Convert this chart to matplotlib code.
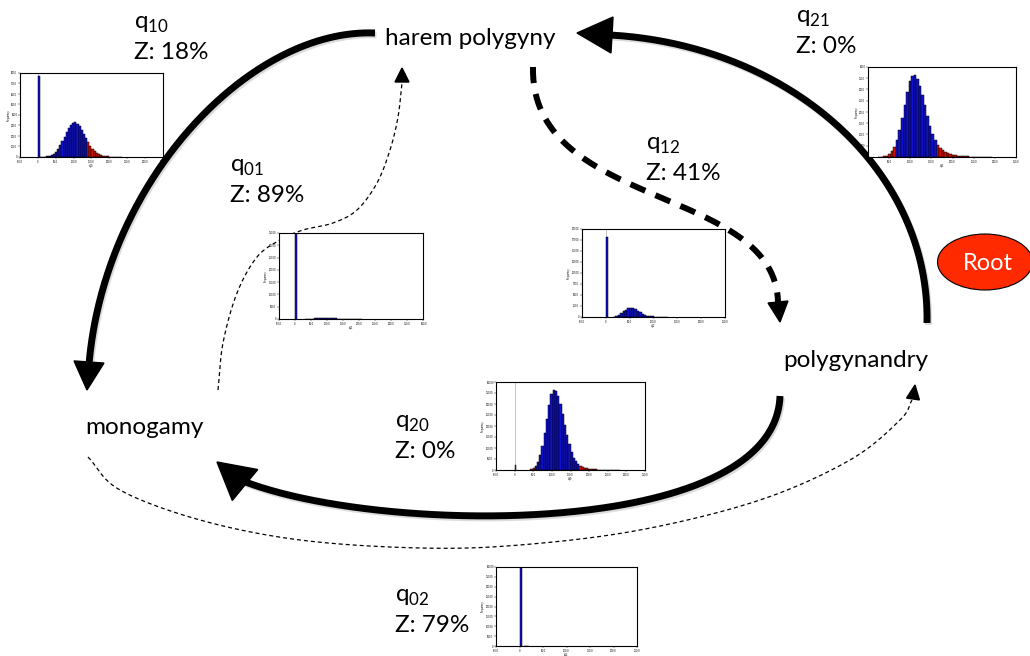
import numpy as np
import matplotlib.pyplot as plt
from matplotlib.patches import Ellipse, Polygon

plt.rcParams['font.family'] = ['Lato', 'DejaVu Sans']

W, H = 1030, 656
BLUE = "#1010d0"
RED = "#d01000"

# ---- labels ----
node_names = ["harem polygyny", "polygynandry", "monogamy"]
rate_names = ["10", "21", "01", "12", "20", "02"]
z_scores = ["18%", "0%", "89%", "41%", "0%", "79%"]

# ---- posterior histograms (spike at zero + continuous part) ----
q10_spike = 7700
q10_start, q10_step = 6, 6
q10_counts = [30, 35, 45, 60, 115, 200, 330, 520, 770, 1100, 1500, 1920, 2370,
              2770, 3080, 3260, 3290, 3180, 2940, 2600, 2210, 1800, 1400, 1050,
              760, 540, 380, 260, 180, 125, 90, 65, 45, 32, 23, 16, 11, 8]
q10_ci = (-10, 138)

q21_spike = 0
q21_start, q21_step = 24, 6
q21_counts = [10, 12, 27, 60, 127, 248, 452, 760, 1185, 1720, 2310, 2890, 3360,
              3620, 3630, 3470, 3170, 2760, 2290, 1820, 1380, 1020, 740, 540,
              400, 300, 225, 170, 130, 100, 78, 60, 48, 38, 30, 24, 19, 15, 12,
              10, 8, 7, 6, 5, 4]
q21_ci = (66, 163)

q01_spike = 35000
q01_start, q01_step = 30, 10
q01_counts = [60, 110, 180, 260, 330, 380, 400, 380, 330, 260, 190, 130, 80,
              50, 30, 20, 12, 8]
q01_ci = (-10, 400)

q12_spike = 18200
q12_start, q12_step = 15, 5
q12_counts = [80, 200, 450, 800, 1250, 1700, 2000, 2100, 2000, 1750, 1400,
              1050, 750, 500, 330, 210, 130, 80, 50, 30, 20, 12, 8]
q12_ci = (-10, 250)

q20_spike = 2400
q20_start, q20_step = 42, 6
q20_counts = [350, 830, 1800, 3600, 6600, 11000, 16700, 23300, 29600, 34400,
              36500, 35900, 33600, 29900, 25400, 20500, 15800, 11600, 8000,
              5600, 3900, 2800, 2000, 1450, 1050, 780, 580, 430, 320, 240, 180,
              140, 100, 80, 60, 45, 35, 25, 20, 15]
q20_ci = (57, 172)

q02_spike = 40000
q02_start, q02_step = 10, 10
q02_counts = [0]
q02_ci = (-10, 250)

# axis set-ups: (xmin, xmax, ymax, ystep)
q10_axis = (-50, 350, 8000, 1000)
q21_axis = (0, 350, 4000, 500)
q01_axis = (-50, 400, 35000, 5000)
q12_axis = (-50, 250, 20000, 2500)
q20_axis = (-50, 350, 40000, 5000)
q02_axis = (-50, 250, 40000, 5000)


def catmull(pts, n=24):
    pts = np.asarray(pts, float)
    p = np.vstack([2 * pts[0] - pts[1], pts, 2 * pts[-1] - pts[-2]])
    out = []
    t = np.linspace(0, 1, n, endpoint=False)[:, None]
    for i in range(1, len(p) - 2):
        p0, p1, p2, p3 = p[i - 1], p[i], p[i + 1], p[i + 2]
        seg = 0.5 * (2 * p1 + (-p0 + p2) * t
                     + (2 * p0 - 5 * p1 + 4 * p2 - p3) * t ** 2
                     + (-p0 + 3 * p1 - 3 * p2 + p3) * t ** 3)
        out.append(seg)
    out.append(pts[-1:])
    return np.vstack(out)


def bezier(ctrl, n=200):
    p0, p1, p2, p3 = [np.array(c, float) for c in ctrl]
    t = np.linspace(0, 1, n)[:, None]
    return ((1 - t) ** 3 * p0 + 3 * (1 - t) ** 2 * t * p1
            + 3 * (1 - t) * t ** 2 * p2 + t ** 3 * p3)


def draw_arrow(ax, c, tip, base, lw, ls, head_w, shadow=False):
    if shadow:
        ax.plot(c[:, 0] + 1.5, c[:, 1] + 2, color="#bbbbbb", lw=lw, ls=ls,
                alpha=0.5, solid_capstyle="butt", zorder=1)
    ax.plot(c[:, 0], c[:, 1], color="black", lw=lw, ls=ls,
            solid_capstyle="butt", dash_capstyle="butt", zorder=2)
    tip = np.array(tip, float)
    base = np.array(base, float)
    u = (tip - base) / np.linalg.norm(tip - base)
    nrm = np.array([-u[1], u[0]])
    poly = [tip, base + nrm * head_w / 2, base - nrm * head_w / 2]
    ax.add_patch(Polygon(poly, closed=True, color="black", zorder=3))


def tick_text(v):
    return "0" if v == 0 else f"{v:.1f}"


def draw_hist(fig, box, name, spike, start, step, counts, ci, axis):
    x0, y0, x1, y1 = box
    ax = fig.add_axes([x0 / W, 1 - y1 / H, (x1 - x0) / W, (y1 - y0) / H])
    xmin, xmax, ymax, ystep = axis
    xs = [2.5] + [start + step * (i + 0.5) for i in range(len(counts))]
    hs = [spike] + list(counts)
    ws = [5] + [step] * len(counts)
    cols = [RED if (x < ci[0] or x > ci[1]) else BLUE for x in xs]
    ax.axvline(0, color="#bbbbbb", lw=0.6, zorder=0)
    ax.bar(xs, hs, width=ws, color=cols, edgecolor="black", linewidth=0.35)
    ax.set_xlim(xmin, xmax)
    ax.set_ylim(0, ymax)
    xt = np.arange(xmin, xmax + 1, 50)
    ax.set_xticks(xt)
    ax.set_xticklabels([tick_text(v) for v in xt])
    yt = np.arange(0, ymax + 1, ystep)
    ax.set_yticks(yt)
    ax.set_yticklabels([str(int(v)) for v in yt])
    ax.tick_params(labelsize=1.8, length=1.2, width=0.3, pad=0.8)
    ax.set_xlabel(name, fontsize=1.8, labelpad=0.5)
    ax.set_ylabel("Frequency", fontsize=1.8, labelpad=0.5)
    for s in ax.spines.values():
        s.set_linewidth(0.8)
    return ax


fig = plt.figure(figsize=(W / 100, H / 100), dpi=100)
ax = fig.add_axes([0, 0, 1, 1])
ax.set_xlim(0, W)
ax.set_ylim(H, 0)
ax.axis("off")

# state names
ax.text(385, 45, node_names[0], fontsize=17.5, va="baseline")
ax.text(783, 367, node_names[1], fontsize=17.5, va="baseline")
ax.text(85, 434, node_names[2], fontsize=17.5, va="baseline")

# rate labels
label_pos = [(134, 59), (796, 53), (230, 202), (646, 180), (395, 458), (395, 632)]
for (lx, ly), r, z in zip(label_pos, rate_names, z_scores):
    ax.text(lx, ly - 30, "q$_{\\mathregular{" + r + "}}$", fontsize=17.5, va="baseline")
    ax.text(lx, ly, "Z: " + z, fontsize=17.5, va="baseline")

# transitions (thick = strongly supported rates)
q10_curve = bezier([(375, 33), (250, 28), (105, 180), (89, 364)])
draw_arrow(ax, q10_curve, (87, 390), (89, 362), 5, "-", 30, shadow=True)

q21_curve = bezier([(927, 323), (930, 170), (790, 45), (610, 35)])
draw_arrow(ax, q21_curve, (577, 33), (612, 35), 5, "-", 36, shadow=True)

q20_curve = bezier([(780, 396), (775, 540), (380, 535), (243, 481)])
draw_arrow(ax, q20_curve, (217, 462), (245, 485), 5, "-", 40, shadow=True)

q12_curve = bezier([(533, 67), (530, 210), (775, 185), (778, 302)])
draw_arrow(ax, q12_curve, (780, 322), (778, 302), 4.3, (0, (2.7, 1.85)), 20)

q01_curve = catmull([(218, 390), (223, 343), (237, 293), (257, 257), (280, 240),
                     (303, 230), (333, 223), (357, 210), (377, 183), (390, 150),
                     (398, 117), (402, 83)])
draw_arrow(ax, q01_curve, (402, 68), (402, 82), 0.9, (0, (3.2, 2.4)), 14)

q02_curve = catmull([(88, 457), (120, 490), (200, 520), (300, 540), (420, 548),
                     (520, 545), (640, 530), (760, 500), (850, 460), (900, 420),
                     (912, 400)])
draw_arrow(ax, q02_curve, (915, 385), (913, 399), 0.9, (0, (3.2, 2.4)), 13)

# root marker
ax.add_patch(Ellipse((985, 262), 95, 56, facecolor="#ff2a00", edgecolor="black",
                     lw=0.8, zorder=3))
ax.text(988, 263, "Root", fontsize=17, color="white", ha="center", va="center",
        zorder=4)

# posterior insets
draw_hist(fig, (20, 73, 163, 157), "q10", q10_spike, q10_start, q10_step,
          q10_counts, q10_ci, q10_axis)
draw_hist(fig, (868, 67, 1016, 157), "q21", q21_spike, q21_start, q21_step,
          q21_counts, q21_ci, q21_axis)
draw_hist(fig, (279, 233, 423, 319), "q01", q01_spike, q01_start, q01_step,
          q01_counts, q01_ci, q01_axis)
draw_hist(fig, (582, 229, 725, 317), "q12", q12_spike, q12_start, q12_step,
          q12_counts, q12_ci, q12_axis)
draw_hist(fig, (496, 382, 645, 470), "q20", q20_spike, q20_start, q20_step,
          q20_counts, q20_ci, q20_axis)
draw_hist(fig, (496, 567, 637, 646), "q02", q02_spike, q02_start, q02_step,
          q02_counts, q02_ci, q02_axis)

fig.savefig("out.png", dpi=100)
